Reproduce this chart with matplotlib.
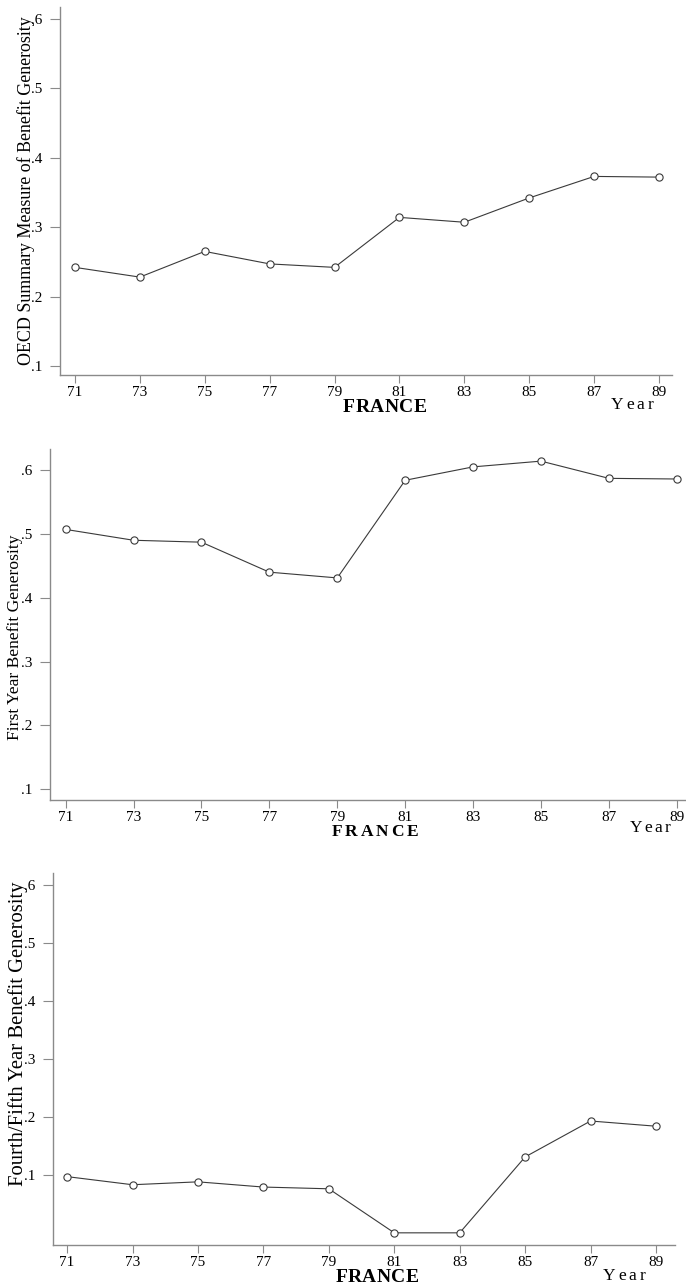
import matplotlib
matplotlib.use("Agg")
import matplotlib.pyplot as plt
import numpy as np

years = [71, 73, 75, 77, 79, 81, 83, 85, 87, 89]
oecd_summary = [0.242, 0.228, 0.265, 0.247, 0.242, 0.314, 0.307, 0.342, 0.373, 0.372]
first_year = [0.507, 0.490, 0.487, 0.440, 0.431, 0.584, 0.605, 0.614, 0.587, 0.586]
fourth_fifth = [0.097, 0.083, 0.088, 0.079, 0.076, 0.0, 0.0, 0.131, 0.193, 0.184]
ylabels = ["OECD Summary Measure of Benefit Generosity",
           "First Year Benefit Generosity",
           "Fourth/Fifth Year Benefit Generosity"]
yticks = [0.1, 0.2, 0.3, 0.4, 0.5, 0.6]
ytick_labels = [".1", ".2", ".3", ".4", ".5", ".6"]
country = "FRANCE"
xname = "Year"

W, H = 686, 1288
DPI = 100
plt.rcParams['font.family'] = ['Liberation Serif', 'DejaVu Serif']
fig = plt.figure(figsize=(W / DPI, H / DPI), dpi=DPI)

def px_axes(left, right, top, bottom):
    return fig.add_axes([left / W, 1 - bottom / H, (right - left) / W, (bottom - top) / H])

# panel geometry (pixels): left, right, top, bottom, xlim, ylim
panels = [
    dict(box=(60, 672, 7, 375), xlim=(70.54, 89.4), ylim=(0.087, 0.617),
         data=oecd_summary, ylab=ylabels[0], ylab_xy=(26, 191), ylab_len=347,
         fr_xy=(385, 408), fr_w=84, fr_size=14, yr_xy=(632, 405), yr_w=42),
    dict(box=(50, 686, 449, 800), xlim=(70.54, 89.27), ylim=(0.083, 0.633),
         data=first_year, ylab=ylabels[1], ylab_xy=(15, 637), ylab_len=205,
         fr_xy=(375, 832), fr_w=87, fr_size=12.5, yr_xy=(650, 828), yr_w=40),
    dict(box=(53, 675, 873, 1245), xlim=(70.57, 89.58), ylim=(-0.021, 0.621),
         data=fourth_fifth, ylab=ylabels[2], ylab_xy=(18, 1034), ylab_len=305,
         fr_xy=(377, 1278), fr_w=83, fr_size=14, yr_xy=(624, 1276), yr_w=42),
]

spine_col = "#8a8a8a"
line_col = "#3a3a3a"

renderer = fig.canvas.get_renderer()

def spaced_text(x, y, s, width, **kw):
    # place characters individually to obtain a given total width (pixels)
    ts = [fig.text(0, 0, c, **kw) for c in s]
    ws = [t.get_window_extent(renderer).width for t in ts]
    gap = (width - sum(ws)) / max(len(s) - 1, 1)
    cur = x - width / 2
    for t, w in zip(ts, ws):
        t.set_position((cur / W, 1 - y / H))
        t.set_ha('left'); t.set_va('center')
        cur += w + gap

for p in panels:
    l, r, t, b = p['box']
    ax = px_axes(l, r, t, b)
    ax.plot(years, p['data'], color=line_col, lw=0.8, marker='o', ms=5.2,
            mfc='white', mec=line_col, mew=0.8)
    ax.set_xlim(*p['xlim'])
    ax.set_ylim(*p['ylim'])
    ax.set_xticks(years)
    ax.set_xticklabels([str(y) for y in years], fontsize=11)
    ax.set_yticks(yticks)
    ax.set_yticklabels(ytick_labels, fontsize=11)
    for s in ['top', 'right']:
        ax.spines[s].set_visible(False)
    for s in ['left', 'bottom']:
        ax.spines[s].set_color(spine_col)
        ax.spines[s].set_linewidth(1.0)
    ax.tick_params(axis='y', length=7.5, width=0.8, color=spine_col, pad=5)
    ax.tick_params(axis='x', length=6, width=0.8, color=spine_col, pad=2)
    # y label sized to reference length
    tl = fig.text(p['ylab_xy'][0] / W, 1 - p['ylab_xy'][1] / H, p['ylab'],
                  rotation=90, ha='center', va='center', fontsize=13)
    h = tl.get_window_extent(renderer).height
    tl.set_fontsize(13 * p['ylab_len'] / h)
    spaced_text(p['fr_xy'][0], p['fr_xy'][1], country, p['fr_w'],
                fontsize=p['fr_size'], fontweight='bold')
    spaced_text(p['yr_xy'][0], p['yr_xy'][1], xname, p['yr_w'], fontsize=12.5)

fig.savefig("out.png", dpi=DPI)
